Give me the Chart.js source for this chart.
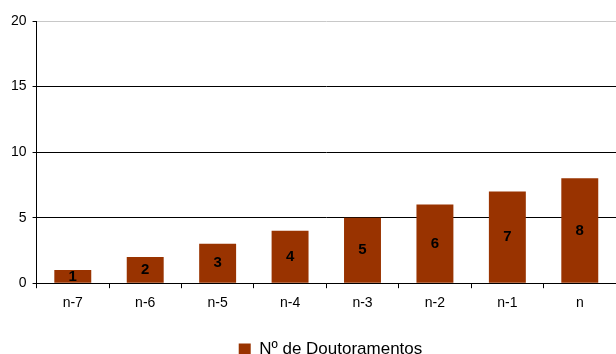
<!DOCTYPE html>
<html><head><meta charset="utf-8">
<script src="https://cdn.jsdelivr.net/npm/chart.js@4/dist/chart.umd.min.js"></script>
<style>html,body{margin:0;padding:0;background:#fff;}#wrap{width:616px;height:354px;}</style>
</head><body><div id="wrap"><canvas id="c" width="616" height="354"></canvas></div>
<script>
const categories = ["n-7","n-6","n-5","n-4","n-3","n-2","n-1","n"];
const doutoramentos = [1,2,3,4,5,6,7,8];
const yTicks = [0,5,10,15,20];
const seriesLabel = "Nº de Doutoramentos";

const barLabels = {
  id: 'barLabels',
  afterDatasetsDraw(chart) {
    const ctx = chart.ctx;
    const meta = chart.getDatasetMeta(0);
    ctx.save();
    ctx.font = 'bold 15px "Liberation Sans", Arial, sans-serif';
    ctx.fillStyle = '#000';
    ctx.textAlign = 'center';
    ctx.textBaseline = 'middle';
    meta.data.forEach((bar, i) => {
      const v = chart.data.datasets[0].data[i];
      ctx.fillText(String(v), bar.x, (bar.y + bar.base) / 2);
    });
    ctx.restore();
  }
};

const legendShift = {
  id: 'legendShift',
  afterLayout(chart) {
    const lg = chart.legend;
    if (lg) { lg.left += 20; lg.right += 20; }
  }
};

new Chart(document.getElementById('c'), {
  type: 'bar',
  data: {
    labels: categories,
    datasets: [{
      label: seriesLabel,
      data: doutoramentos,
      backgroundColor: '#993300',
      borderWidth: 0,
      categoryPercentage: 1,
      barPercentage: 0.51
    }]
  },
  options: {
    responsive: false,
    animation: false,
    devicePixelRatio: 1,
    layout: { padding: { top: 21, right: 0, left: 5, bottom: -14 } },
    plugins: {
      tooltip: { enabled: false },
      legend: {
        position: 'bottom',
        labels: {
          boxWidth: 12, boxHeight: 12, color: '#000',
          font: { family: '"Liberation Sans", Arial, sans-serif', size: 17 },
          padding: 0
        }
      }
    },
    scales: {
      x: {
        grid: { offset: true, drawOnChartArea: false, drawTicks: true, tickLength: 5, color: '#000' },
        border: { color: '#000', width: 1 },
        ticks: { color: '#000', font: { family: '"Liberation Sans", Arial, sans-serif', size: 14 }, padding: 7 },
        afterFit(axis) { axis.height += 22; }
      },
      y: {
        min: 0, max: 20,
        afterBuildTicks(axis) { axis.ticks = yTicks.map(v => ({ value: v })); },
        grid: {
          color: ctx => (ctx.tick && ctx.tick.value === 20) ? '#c8c8c8' : '#000',
          tickColor: '#000',
          tickLength: 4, drawTicks: true
        },
        border: { color: '#000', width: 1 },
        ticks: { color: '#000', font: { family: '"Liberation Sans", Arial, sans-serif', size: 14 }, padding: 6 }
      }
    }
  },
  plugins: [barLabels, legendShift]
});
</script></body></html>
